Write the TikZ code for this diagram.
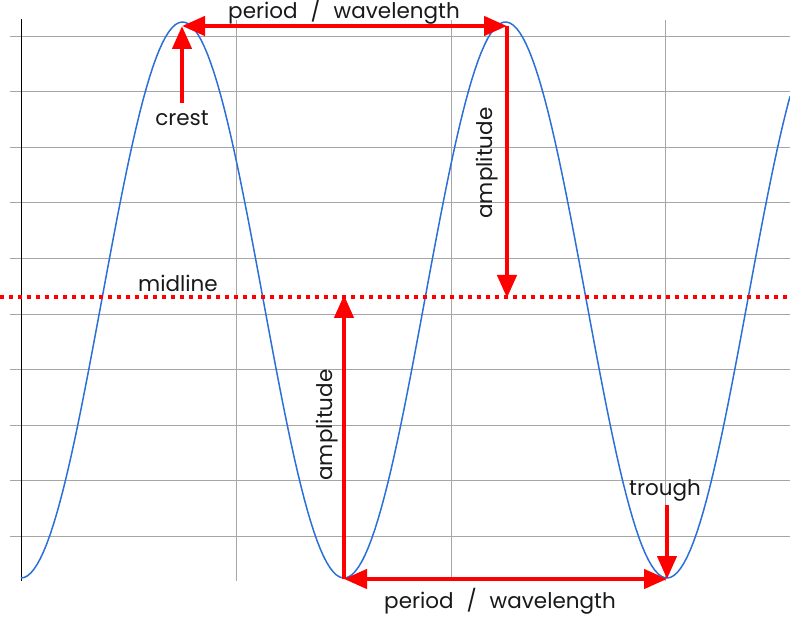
\documentclass[tikz,border=0pt]{standalone}
\usepackage{fontspec}
\setmainfont{Poppins}
\usetikzlibrary{arrows.meta}
\definecolor{wavecol}{HTML}{2B6FD8}
\begin{document}
\begin{tikzpicture}[x=1pt,y=-1pt,
  gridline/.style={draw=black!35,line width=0.9pt},
  redarrow/.style={draw=red,line width=4.5pt,-{Triangle[length=23pt,width=19pt]}},
  redboth/.style={draw=red,line width=4.5pt,{Triangle[length=23pt,width=19pt]}-{Triangle[length=23pt,width=19pt]}},
  lbl/.style={font=\fontsize{21.5}{24}\selectfont,text=black!90,inner sep=0pt}]
\useasboundingbox (0,0) rectangle (790,628);
% grid
\foreach \gy in {36,91.6,147.2,202.8,258.4,314,369.6,425.2,480.8,536.4}
  \draw[gridline] (10,\gy) -- (790,\gy);
\foreach \gx in {236,451,665}
  \draw[gridline] (\gx,20) -- (\gx,581);
\draw[line width=0.9pt] (21,19) -- (21,581);
% wave
\draw[wavecol,line width=1.5pt] plot[domain=21:790,samples=240]
  (\x,{300+278*cos(360/323*(\x-21))});
% midline
\draw[red,line width=4pt,dash pattern=on 4pt off 5pt] (0,297) -- (790,297);
% points
\coordinate (crestA) at (182,26);
\coordinate (crestB) at (507,26);
\coordinate (troughA) at (344,579);
\coordinate (troughB) at (667,579);
\coordinate (midR) at (507,298);
\coordinate (midL) at (344,295);
\coordinate (crestTail) at (182,103);
\coordinate (troughTail) at (667,505);
% arrows
\draw[redboth] (crestA) -- (crestB);
\draw[redboth] (troughA) -- (troughB);
\draw[redarrow] (crestTail) -- (crestA);
\draw[redarrow] (troughTail) -- (troughB);
\draw[redarrow] (crestB) -- (midR);
\draw[redarrow] (troughA) -- (midL);
% labels
\node[lbl] (periodTop) at (344,11) {period\hspace{0.6em}/\hspace{0.6em}wavelength};
\node[lbl] (periodBot) at (500,601) {period\hspace{0.6em}/\hspace{0.6em}wavelength};
\node[lbl] (crestLbl) at (182,118) {crest};
\node[lbl] (troughLbl) at (665,490) {trough};
\node[lbl] (midLbl) at (178,283) {midline};
\node[lbl,rotate=90] (ampR) at (487,163) {amplitude};
\node[lbl,rotate=90] (ampL) at (327,425) {amplitude};
\end{tikzpicture}
\end{document}
